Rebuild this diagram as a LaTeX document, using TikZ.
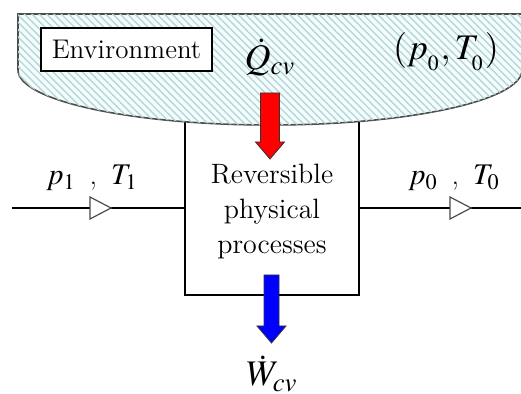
\documentclass[tikz,border=0pt]{standalone}
\usepackage{mathptmx}
\usetikzlibrary{patterns.meta}

\tikzset{
  envshape/.style={draw=gray!60!black, line width=0.8pt, fill=cyan!4,
    postaction={pattern={Lines[angle=-45, distance=2.6pt, line width=0.7pt]},
      pattern color=cyan!30!gray!45}},
  procbox/.style={draw, line width=0.6pt, minimum width=87pt, minimum height=97.5pt, inner sep=0pt},
  envbox/.style={draw, line width=0.6pt, fill=white, minimum width=85.5pt, minimum height=21.5pt, inner sep=0pt,
    font=\fontsize{13.5}{15}\selectfont},
  flowline/.style={line width=0.6pt},
  flowtip/.pic={\draw[gray!60!black, line width=0.6pt, fill=white] (-10,-11) -- (11,0) -- (-10,11) -- cycle;},
  biglabel/.style={font=\fontsize{18}{20}\selectfont, inner sep=0pt},
  statelabel/.style={font=\fontsize{15}{17}\selectfont, inner sep=0pt}
}
% fat arrow: x centre, top, bottom, shaft half width, colour
\newcommand\fatarrow[5]{%
  \draw[black!80, line width=0.4pt, fill=#5]
    (#1-#4,#2) -- (#1+#4,#2) -- (#1+#4,#3-17) -- (#1+14.5,#3-17) -- (#1,#3)
    -- (#1-14.5,#3-17) -- (#1-#4,#3-17) -- cycle;}

\begin{document}
\begin{tikzpicture}[x=0.5pt, y=-0.5pt]
  \useasboundingbox (0,0) rectangle (521,394);

  % control volume
  \node[procbox] (box) at (272,197.5) {};
  \node[align=center, font=\fontsize{14}{17.5}\selectfont] (proc) at (272,212)
    {Reversible\\physical\\processes};

  % environment
  \draw[envshape] (18,14) -- (18,70) arc[start angle=180, end angle=0, x radius=252, y radius=55]
    -- (523,14) -- cycle;
  \node[envbox] (env) at (126.5,49.5) {Environment};
  \node[biglabel] (q) at (270,57) {$\dot{Q}_{cv}$};
  \node[biglabel] (dead) at (446,52) {$(p_{_0},T_{_0})$};

  % inlet and outlet
  \coordinate (in) at (12,208);
  \coordinate (out) at (523,208);
  \draw[flowline] (in) -- (in -| box.west);
  \draw[flowline] (out -| box.east) -- (out);
  \pic at (100,208) {flowtip};
  \pic at (460,208) {flowtip};
  \node[statelabel] (inlabel) at (92,178) {$p_1$\ \,,\ \,$T_1$};
  \node[statelabel] (outlabel) at (454,178) {$p_0$\ \,,\ \,$T_0$};

  % heat and work
  \fatarrow{270}{93}{159}{9.5}{red}
  \fatarrow{271.5}{275}{343}{7.5}{blue}
  \node[biglabel] (w) at (272,374) {$\dot{W}_{cv}$};
\end{tikzpicture}
\end{document}
